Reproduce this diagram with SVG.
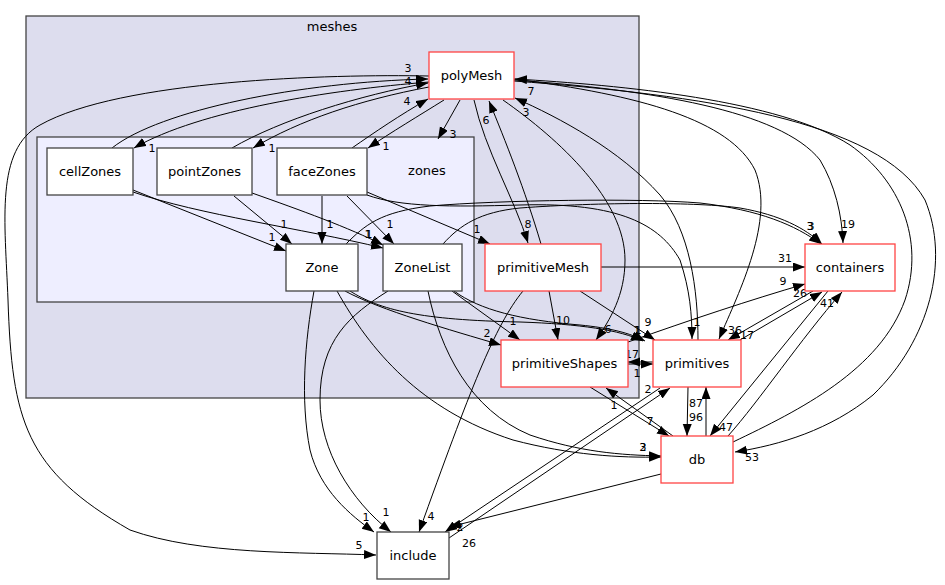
<svg xmlns="http://www.w3.org/2000/svg" width="945" height="585" viewBox="0 0 945 585">
<style>
.cl{stroke:#444;stroke-width:1.3}
.n{fill:#fff;stroke:#444;stroke-width:1.3}
.r{fill:#fff;stroke:#ff4444;stroke-width:1.3}
.t{font-family:"DejaVu Sans",sans-serif;font-size:13px;fill:#000;text-anchor:middle}
.e path{fill:none;stroke:#000;stroke-width:1;marker-end:url(#ah)}
.l{font-family:"DejaVu Sans",sans-serif;font-size:11px;fill:#000;text-anchor:middle}
</style>
<defs>
<marker id="ah" markerUnits="userSpaceOnUse" markerWidth="13" markerHeight="10" refX="12" refY="4.5" orient="auto">
<path d="M0,0 L12,4.5 L0,9 z" fill="#000"/>
</marker>
</defs>
<rect width="945" height="585" fill="#fff"/>
<g id="meshes">
<rect class="cl" x="26" y="16" width="613" height="382" fill="#ddddee"/>
<text class="t" x="332" y="31">meshes</text>
</g>
<g id="zones">
<rect class="cl" x="37" y="137" width="437" height="165" fill="#eeeeff"/>
<text class="t" x="427" y="175">zones</text>
</g>
<g id="edges" class="e">
<path d="M429,76 C330,74 120,80 40,125 C-5,150 5,220 8,300 C12,420 25,470 130,530 C200,555 300,552 376,555"/>
<path d="M112,148 C160,110 300,82 428,79"/>
<path d="M429,82 C330,90 200,110 134,148"/>
<path d="M232,148 C280,120 360,95 428,83"/>
<path d="M429,87 C360,100 300,120 253,148"/>
<path d="M352,148 C375,132 400,115 428,99"/>
<path d="M444,100 C420,115 390,133 368,148"/>
<path d="M460,100 L438,139"/>
<path d="M474,100 C485,150 515,200 528,243"/>
<path d="M541,244 C525,190 505,140 489,101"/>
<path d="M503,100 C560,140 625,200 625,260 C625,295 610,320 596,340"/>
<path d="M698,340 C698,290 690,230 660,195 C620,150 560,118 515,98"/>
<path d="M514,79 C640,95 730,120 755,170 C775,220 740,290 719,339"/>
<path d="M514,80 C650,90 780,110 820,160 C835,185 842,215 843,243"/>
<path d="M514,81 C700,95 880,120 925,200 C950,260 930,340 873,395 C830,430 780,445 735,452"/>
<path d="M733,442 C800,410 880,370 905,300 C925,240 900,180 850,145 C780,100 620,85 515,79"/>
<path d="M133,190 L286,251"/>
<path d="M133,192 C200,215 300,228 383,248"/>
<path d="M234,196 L292,244"/>
<path d="M252,193 C300,210 350,228 383,245"/>
<path d="M322,196 L322,244"/>
<path d="M347,196 L394,244"/>
<path d="M367,192 L490,244"/>
<path d="M367,195 C400,207 450,207 520,205 C620,202 660,225 680,260 C690,290 692,315 692,339"/>
<path d="M346,244 C365,225 380,212 430,206 C500,200 640,198 700,203 C760,210 795,225 821,244"/>
<path d="M443,244 C460,225 480,212 520,208 C600,202 700,202 740,208 C780,215 805,228 822,244"/>
<path d="M350,291 C380,310 420,320 520,322 C580,324 620,330 643,341"/>
<path d="M454,291 C480,310 520,320 580,325 C610,328 630,333 645,341"/>
<path d="M345,291 C380,310 450,330 501,345"/>
<path d="M452,291 L520,340"/>
<path d="M314,291 C305,340 300,400 310,450 C320,490 350,515 374,532"/>
<path d="M388,291 C350,315 320,340 320,400 C320,450 350,500 391,532"/>
<path d="M337,291 C370,350 420,410 513,440 C570,455 620,458 661,457"/>
<path d="M428,291 C440,350 470,410 530,435 C580,452 620,455 661,456"/>
<path d="M549,291 L558,340"/>
<path d="M523,291 C495,325 470,390 419,532"/>
<path d="M580,291 L655,340"/>
<path d="M601,267 L805,267"/>
<path d="M628,342 C690,320 750,300 805,284"/>
<path d="M628,364 L653,364"/>
<path d="M653,362 L628,362"/>
<path d="M590,387 L669,436"/>
<path d="M673,436 L606,388"/>
<path d="M688,387 L687,436"/>
<path d="M706,436 L706,387"/>
<path d="M660,388 L445,532"/>
<path d="M449,538 L670,388"/>
<path d="M661,474 L449,527"/>
<path d="M828,291 L710,436"/>
<path d="M728,436 C760,400 800,340 842,292"/>
<path d="M740,340 L822,292"/>
<path d="M813,291 L728,340"/>
</g>
<g id="labels">
<text class="l" x="408" y="72">3</text>
<text class="l" x="408" y="85">4</text>
<text class="l" x="407" y="105">4</text>
<text class="l" x="152" y="152">1</text>
<text class="l" x="272" y="152">1</text>
<text class="l" x="386" y="150">1</text>
<text class="l" x="453" y="138">3</text>
<text class="l" x="528" y="228">8</text>
<text class="l" x="486" y="124">6</text>
<text class="l" x="531" y="95">7</text>
<text class="l" x="526" y="116">3</text>
<text class="l" x="848" y="228">19</text>
<text class="l" x="735" y="334">36</text>
<text class="l" x="752" y="461">53</text>
<text class="l" x="608" y="333">6</text>
<text class="l" x="359" y="549">5</text>
<text class="l" x="272" y="241">1</text>
<text class="l" x="368" y="238">1</text>
<text class="l" x="369" y="238">1</text>
<text class="l" x="284" y="228">1</text>
<text class="l" x="330" y="228">1</text>
<text class="l" x="390" y="228">1</text>
<text class="l" x="477" y="233">1</text>
<text class="l" x="697" y="326">1</text>
<text class="l" x="810" y="230">3</text>
<text class="l" x="811" y="230">3</text>
<text class="l" x="637" y="334">1</text>
<text class="l" x="638" y="334">1</text>
<text class="l" x="487" y="337">2</text>
<text class="l" x="513" y="325">1</text>
<text class="l" x="366" y="521">1</text>
<text class="l" x="386" y="516">1</text>
<text class="l" x="643" y="451">2</text>
<text class="l" x="643" y="451">3</text>
<text class="l" x="563" y="324">10</text>
<text class="l" x="431" y="520">4</text>
<text class="l" x="648" y="326">9</text>
<text class="l" x="785" y="262">31</text>
<text class="l" x="783" y="285">9</text>
<text class="l" x="637" y="377">1</text>
<text class="l" x="632" y="358">17</text>
<text class="l" x="650" y="425">7</text>
<text class="l" x="614" y="409">1</text>
<text class="l" x="696" y="421">96</text>
<text class="l" x="696" y="407">87</text>
<text class="l" x="648" y="393">2</text>
<text class="l" x="460" y="531">2</text>
<text class="l" x="469" y="547">26</text>
<text class="l" x="726" y="431">47</text>
<text class="l" x="827" y="307">41</text>
<text class="l" x="800" y="297">26</text>
<text class="l" x="747" y="339">17</text>
</g>
<g id="polyMesh"><rect class="r" x="429" y="52" width="85" height="47"/><text class="t" x="471.5" y="80">polyMesh</text></g>
<g id="cellZones"><rect class="n" x="47" y="148" width="86" height="47"/><text class="t" x="90" y="176">cellZones</text></g>
<g id="pointZones"><rect class="n" x="157" y="148" width="95" height="47"/><text class="t" x="204.5" y="176">pointZones</text></g>
<g id="faceZones"><rect class="n" x="277" y="148" width="90" height="47"/><text class="t" x="322" y="176">faceZones</text></g>
<g id="Zone"><rect class="n" x="286" y="244" width="72" height="47"/><text class="t" x="322" y="272">Zone</text></g>
<g id="ZoneList"><rect class="n" x="383" y="244" width="79" height="47"/><text class="t" x="422.5" y="272">ZoneList</text></g>
<g id="primitiveMesh"><rect class="r" x="485" y="244" width="116" height="47"/><text class="t" x="543" y="272">primitiveMesh</text></g>
<g id="containers"><rect class="r" x="805" y="244" width="90" height="47"/><text class="t" x="850" y="272">containers</text></g>
<g id="primitiveShapes"><rect class="r" x="501" y="340" width="127" height="47"/><text class="t" x="564.5" y="368">primitiveShapes</text></g>
<g id="primitives"><rect class="r" x="653" y="340" width="88" height="47"/><text class="t" x="697" y="368">primitives</text></g>
<g id="db"><rect class="r" x="661" y="436" width="72" height="47"/><text class="t" x="697" y="464">db</text></g>
<g id="include"><rect class="n" x="377" y="532" width="72" height="47"/><text class="t" x="413" y="560">include</text></g>
</svg>
